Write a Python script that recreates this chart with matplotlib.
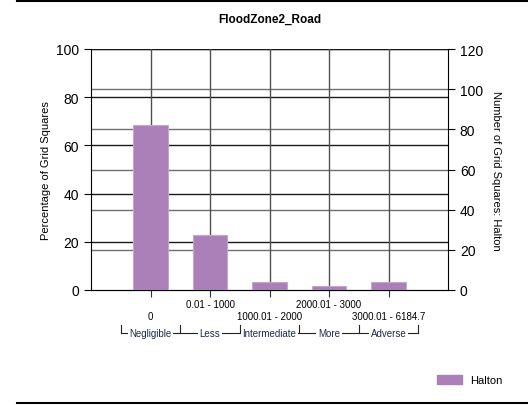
import matplotlib.pyplot as plt
from matplotlib.lines import Line2D

# data
categories = ["0", "0.01 - 1000", "1000.01 - 2000", "2000.01 - 3000", "3000.01 - 6184.7"]
groups = ["Negligible", "Less", "Intermediate", "More", "Adverse"]
percent = [68.5, 22.8, 3.3, 1.7, 3.3]
series_name = "Halton"

BAR_COLOR = "#ab7fb8"
W, H = 528, 406

plt.rcParams['font.family'] = ['Liberation Sans', 'DejaVu Sans']
fig = plt.figure(figsize=(W / 100, H / 100), dpi=100)

ax = fig.add_axes([91 / W, 1 - 291 / H, (448 - 91) / W, (291 - 50) / H])
ax2 = ax.twinx()
# bars axis on top of the secondary grid
ax.set_zorder(ax2.get_zorder() + 1)
ax.patch.set_visible(False)

x = list(range(len(categories)))
ax.set_xlim(-1, len(categories))
ax.set_ylim(0, 100)
ax2.set_ylim(0, 120)
ax.set_yticks(range(0, 101, 20))
ax2.set_yticks(range(0, 121, 20))

# grids: left axis black, right axis + verticals gray
for v in range(20, 101, 20):
    ax.axhline(v, color="#1a1a1a", lw=1, zorder=0)
for v in range(20, 121, 20):
    ax2.axhline(v, color="#707070", lw=1, zorder=0)
for xi in x:
    ax.axvline(xi, color="#505050", lw=1, zorder=0)

ax.bar(x, percent, width=0.58, color=BAR_COLOR, edgecolor="#c6a6d0", lw=0.8, zorder=3)

for a in (ax, ax2):
    a.spines["top"].set_visible(False)
    for s in ("left", "right", "bottom"):
        a.spines[s].set_color("black")
ax2.spines["left"].set_visible(False)
ax.spines["right"].set_visible(False)

ax.tick_params(axis="y", labelsize=10, length=5, direction="out", color="black")
ax2.tick_params(axis="y", labelsize=10, length=5, direction="out", color="black")
ax.set_xticks(x)
ax.set_xticklabels([])
ax.tick_params(axis="x", length=5, direction="out", color="#333333")

# staggered category labels
for i, lab in enumerate(categories):
    yoff = -14 if i % 2 == 1 else -26
    ax.annotate(lab, (i, 0), xycoords=("data", "axes fraction"),
                xytext=(0, yoff), textcoords="offset pixels",
                ha="center", va="center", fontsize=7, color="black")

# group brackets
ybr = 333
bounds = [-0.5, 0.5, 1.5, 2.5, 3.5, 4.5]
for b in bounds:
    xb = ax.transData.transform((b, 0))[0] / W
    fig.add_artist(Line2D([xb, xb], [1 - (ybr + 1) / H, 1 - (ybr - 7) / H],
                          color="#222222", lw=0.8))
x0 = ax.transData.transform((bounds[0], 0))[0] / W
x1 = ax.transData.transform((bounds[-1], 0))[0] / W
fig.add_artist(Line2D([x0, x1], [1 - (ybr + 1) / H] * 2, color="#222222", lw=0.8))
for i, g in enumerate(groups):
    xc = ax.transData.transform((i, 0))[0] / W
    fig.text(xc, 1 - (ybr + 1) / H, g, ha="center", va="center", fontsize=7,
             color="#1f2a44", bbox=dict(facecolor="white", edgecolor="none", pad=1.2))

ax.set_ylabel("Percentage of Grid Squares", fontsize=8, labelpad=4)
ax2.set_ylabel("Number of Grid Squares: Halton", fontsize=8, rotation=270, labelpad=13)
fig.text(270 / W, 1 - 20 / H, "FloodZone2_Road", ha="center", va="center",
         fontsize=8.5, fontweight="bold")

# legend
handle = plt.Rectangle((0, 0), 1, 1, color=BAR_COLOR)
fig.legend([handle], [series_name], loc="center", bbox_to_anchor=(470 / W, 1 - 381 / H),
           frameon=False, fontsize=8, handlelength=2.2, handleheight=0.9)

# outer frame lines
fig.add_artist(Line2D([17 / W, 1], [1 - 2 / H] * 2, color="black", lw=1.5))
fig.add_artist(Line2D([17 / W, 1], [1 - 404 / H] * 2, color="black", lw=1.5))

fig.savefig("out.png", dpi=100)
